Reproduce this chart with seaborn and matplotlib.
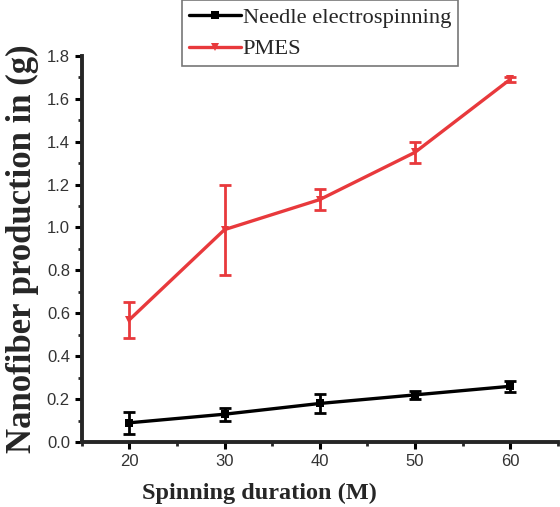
import pandas as pd
import matplotlib.pyplot as plt
import seaborn as sns
import numpy as np

# data
duration = [20, 30, 40, 50, 60]
needle = [0.09, 0.13, 0.18, 0.22, 0.26]
needle_err = [0.05, 0.03, 0.045, 0.02, 0.025]
pmes = [0.57, 0.99, 1.13, 1.35, 1.69]
pmes_err = [0.085, 0.21, 0.05, 0.05, 0.01]

df = pd.DataFrame({'duration': duration * 2,
                   'value': needle + pmes,
                   'method': ['Needle electrospinning'] * 5 + ['PMES'] * 5})

sns.set_style('ticks')
plt.rcParams['font.family'] = ['Liberation Sans', 'DejaVu Sans']

fig = plt.figure(figsize=(5.6, 5.07), dpi=100)
ax = fig.add_axes([0.146, 0.128, 0.85, 0.762])

colors = {'Needle electrospinning': 'black', 'PMES': '#e8393c'}
sns.lineplot(data=df, x='duration', y='value', hue='method', style='method',
             palette=colors, markers={'Needle electrospinning': 's', 'PMES': 'v'},
             dashes=False, linewidth=2.4, markersize=6, markeredgewidth=0,
             ax=ax, legend=True)

ax.errorbar(duration, needle, yerr=needle_err, fmt='none', ecolor='black',
            elinewidth=2, capsize=4, capthick=2)
ax.errorbar(duration, pmes, yerr=pmes_err, fmt='none', ecolor='#e8393c',
            elinewidth=2, capsize=4, capthick=2)

ax.set_xlim(15, 65)
ax.set_ylim(0, 1.8)
ax.set_xticks([20, 30, 40, 50, 60])
ax.set_xticks([15, 25, 35, 45, 55, 65], minor=True)
ax.set_yticks(np.arange(0, 1.81, 0.2))
ax.set_yticks(np.arange(0.1, 1.8, 0.2), minor=True)
ax.yaxis.set_major_formatter(plt.FormatStrFormatter('%.1f'))

for s in ['top', 'right']:
    ax.spines[s].set_visible(False)
for s in ['left', 'bottom']:
    ax.spines[s].set_linewidth(2.8)
ax.tick_params(which='major', direction='out', length=5, width=2.2,
               labelsize=12, colors='black', labelcolor='#333333')
ax.tick_params(which='minor', direction='out', length=3, width=2)

ax.set_xlabel('Spinning duration (M)', fontsize=17.5, fontweight='bold',
              family='Liberation Serif')
ax.set_ylabel('Nanofiber production in (g)', fontsize=25, fontweight='bold',
              family='Liberation Serif')
ax.xaxis.set_label_coords(0.374, -0.105)
ax.yaxis.set_label_coords(-0.09, 0.5)

handles, labels = ax.get_legend_handles_labels()
ax.get_legend().remove()
leg = fig.legend(handles, labels, loc='upper left', bbox_to_anchor=(0.325, 1.0),
                 frameon=True, fancybox=False, edgecolor='#555555',
                 prop={'family': 'Liberation Serif', 'size': 16.2},
                 handlelength=2.3, handletextpad=0.1, borderpad=0.3,
                 labelspacing=0.5, borderaxespad=0)
leg.get_frame().set_linewidth(1.2)

fig.savefig('out.png', dpi=100)
